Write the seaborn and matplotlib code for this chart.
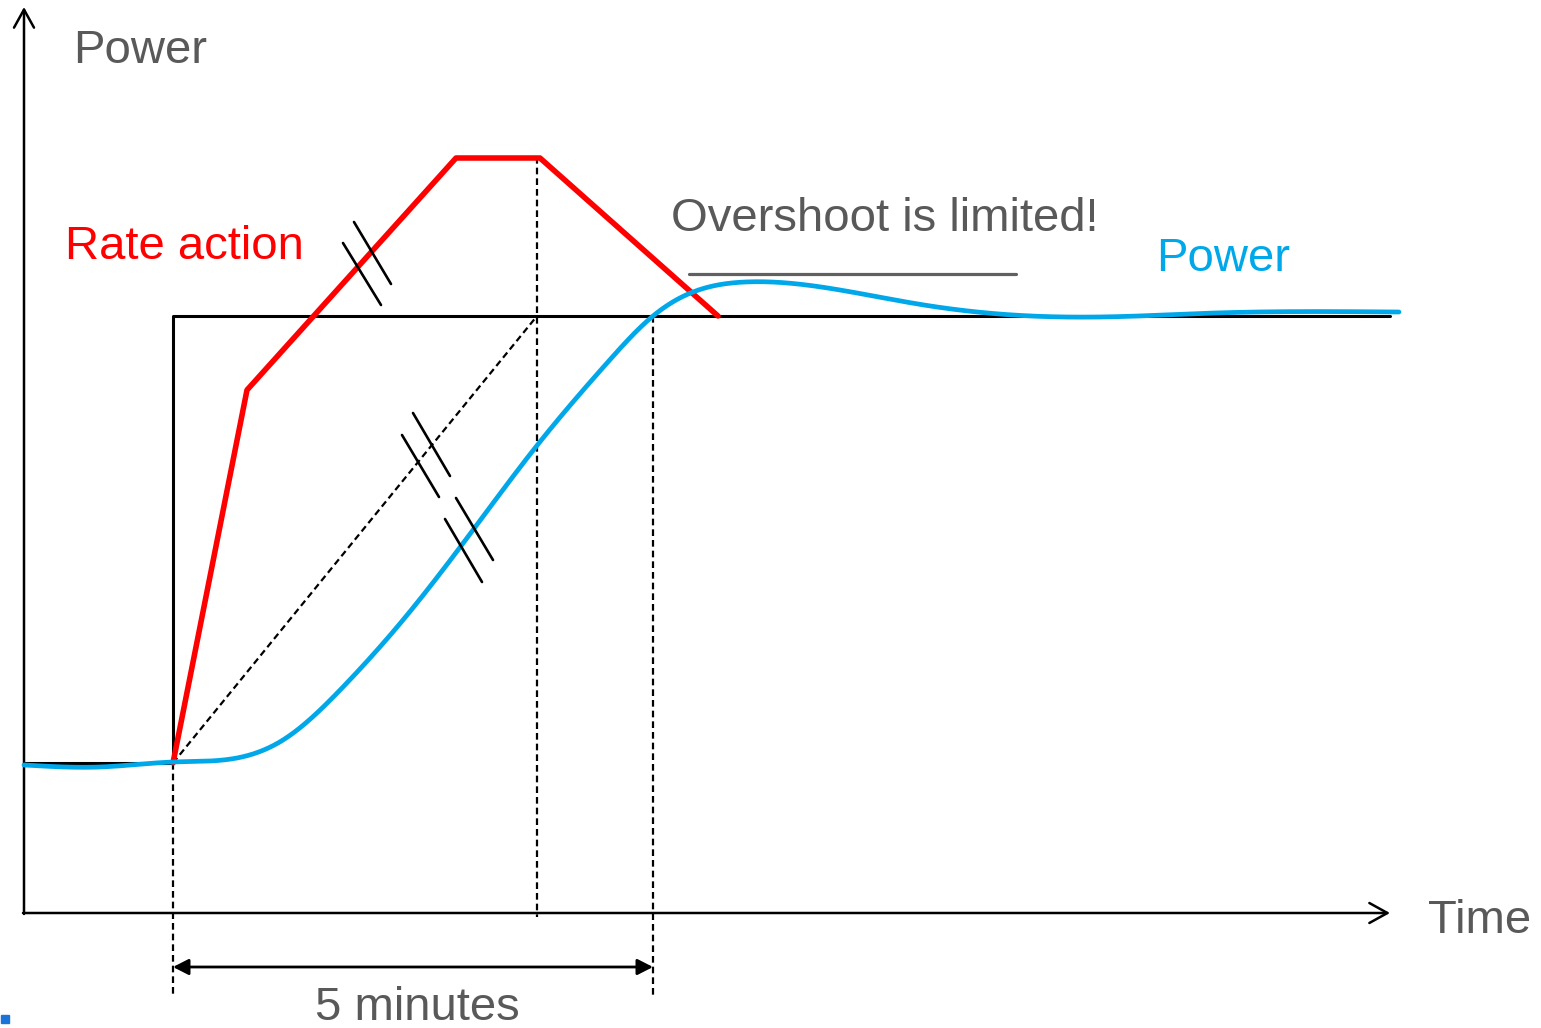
import numpy as np
import pandas as pd
import matplotlib
matplotlib.use('Agg')
import matplotlib.pyplot as plt
import seaborn as sns

sns.set_style('white')
plt.rcParams['font.family'] = ['Liberation Sans', 'DejaVu Sans']

# schematic coordinates (time to the right, power downwards in picture units)
red_t = [173, 247, 456, 540, 718]
red_p = [763, 390, 158, 158, 316]

blue_t = [24, 100, 173, 237, 283, 343, 403, 473, 535, 607, 653, 693, 745,
          834, 924, 1013, 1100, 1215, 1399]
blue_p = [765, 767, 762, 758, 740, 687, 620, 530, 448, 363, 316, 292, 282,
          289, 305, 315, 317, 313, 312]

step_t = [24, 173, 173, 1390]
step_p = [763, 763, 316, 316]

t0, t_mid, t_end = 173, 537, 653
p_low, p_set = 763, 316

gray = '#595959'
red = '#ff0000'
blue = '#00a8ea'
dash = (0, (3, 1.8))

fig = plt.figure(figsize=(15.41, 10.28), dpi=100)
ax = fig.add_axes([0, 0, 1, 1])

# axes arrows
ax.annotate('', xy=(24, 7), xytext=(24, 914),
            arrowprops=dict(arrowstyle='->,head_length=0.65,head_width=0.36',
                            mutation_scale=20, lw=1.8, color='black',
                            shrinkA=0, shrinkB=0))
ax.annotate('', xy=(1390, 913), xytext=(23, 913),
            arrowprops=dict(arrowstyle='->,head_length=0.65,head_width=0.36',
                            mutation_scale=20, lw=1.8, color='black',
                            shrinkA=0, shrinkB=0))

# setpoint step
ax.plot(step_t, step_p, color='black', linewidth=2.2, zorder=2)

# dashed guides
ax.plot([t0, t0], [p_low, 997], color='black', linewidth=1.6, ls=dash)
ax.plot([t_mid, t_mid], [157, 917], color='black', linewidth=1.6, ls=dash)
ax.plot([t_end, t_end], [p_set, 997], color='black', linewidth=1.6, ls=dash)
ax.plot([t0, t_mid], [p_low, p_set], color='black', linewidth=1.6, ls=dash)

# natural cubic spline through the read points of the blue curve
def spline(x, y, xn):
    x = np.asarray(x, float); y = np.asarray(y, float)
    n = len(x); h = np.diff(x)
    A = np.zeros((n, n)); r = np.zeros(n)
    A[0, 0] = A[-1, -1] = 1
    for i in range(1, n - 1):
        A[i, i - 1] = h[i - 1]; A[i, i] = 2 * (h[i - 1] + h[i]); A[i, i + 1] = h[i]
        r[i] = 6 * ((y[i + 1] - y[i]) / h[i] - (y[i] - y[i - 1]) / h[i - 1])
    M = np.linalg.solve(A, r)
    idx = np.clip(np.searchsorted(x, xn) - 1, 0, n - 2)
    a = x[idx + 1] - xn; b = xn - x[idx]; hh = h[idx]
    return (M[idx] * a**3 + M[idx + 1] * b**3) / (6 * hh) + \
        (y[idx] / hh - M[idx] * hh / 6) * a + (y[idx + 1] / hh - M[idx + 1] * hh / 6) * b

ti = np.linspace(blue_t[0], blue_t[-1], 800)
df_blue = pd.DataFrame({'t': ti, 'p': spline(blue_t, blue_p, ti)})
df_red = pd.DataFrame({'t': red_t, 'p': red_p})

sns.lineplot(data=df_blue, x='t', y='p', color=blue, linewidth=3.4, sort=False,
             ax=ax, zorder=4)
sns.lineplot(data=df_red, x='t', y='p', color=red, linewidth=4.0, sort=False,
             ax=ax, zorder=3)

# hash marks
hashes = [((343, 243), (381, 305)), ((354, 222), (391, 284)),
          ((402, 435), (439, 497)), ((413, 413), (450, 476)),
          ((445, 519), (482, 582)), ((456, 498), (493, 560))]
for a, b in hashes:
    ax.plot([a[0], b[0]], [a[1], b[1]], color='black', linewidth=1.9, zorder=5)

# overshoot underline
ax.plot([689, 1016], [274, 274], color='#606060', linewidth=2.3)

# 5 minutes dimension arrow
ax.annotate('', xy=(t_end, 967), xytext=(t0, 967),
            arrowprops=dict(arrowstyle='<|-|>,head_length=0.47,head_width=0.24',
                            mutation_scale=20, lw=2.0, color='black',
                            shrinkA=0, shrinkB=0))

# texts
ax.text(73, 51, 'Power', fontsize=34, color=gray, ha='left', va='center')
ax.text(65, 247, 'Rate action', fontsize=34, color=red, ha='left', va='center')
ax.text(671, 219, 'Overshoot is limited!', fontsize=34, color=gray, ha='left', va='center')
ax.text(1156, 259, 'Power', fontsize=34, color=blue, ha='left', va='center')
ax.text(1428, 921, 'Time', fontsize=34, color=gray, ha='left', va='center')
ax.text(417, 1008, '5 minutes', fontsize=34, color=gray, ha='center', va='center')

# small marker at bottom-left corner
ax.plot([5], [1019], marker='s', ms=6, color='#1a73d9', ls='none')

ax.set_xlim(0, 1541)
ax.set_ylim(1028, 0)
ax.axis('off')

fig.savefig('out.png', dpi=100)
